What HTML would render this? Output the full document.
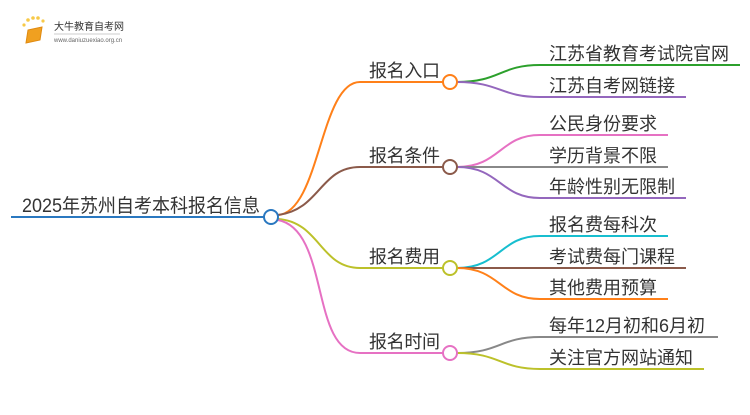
<!DOCTYPE html>
<html><head><meta charset="utf-8"><style>
body{margin:0;width:750px;height:410px;background:#fff;overflow:hidden}
svg text{font-family:"Liberation Sans","Noto Sans CJK SC",sans-serif;fill:#333}
</style></head><body>
<svg width="750" height="410" viewBox="0 0 750 410" xmlns="http://www.w3.org/2000/svg">
<g fill="none" stroke-width="2">
<circle cx="24" cy="25" r="1.6" fill="#f7c948" stroke="none"/>
<circle cx="28" cy="20" r="1.8" fill="#f7c948" stroke="none"/>
<circle cx="33" cy="18" r="1.8" fill="#f7c948" stroke="none"/>
<circle cx="38" cy="18" r="1.8" fill="#f7c948" stroke="none"/>
<circle cx="43" cy="21" r="1.6" fill="#f7c948" stroke="none"/>
<path d="M28 30 L42 27 L40 40 L26 43 Z" fill="#f0a020" stroke="#e08a10" stroke-width="1"/>
<line x1="54" y1="34" x2="120" y2="34" stroke="#ccc" stroke-width="1"/>
<line x1="11" y1="217" x2="264" y2="217" stroke="#2a78c0"/>
<path d="M278 215 C320 212 320 82 360 82 L443 82" stroke="#ff8019"/>
<path d="M278 215 C320 210 320 167 360 167 L443 167" stroke="#8b5a4a"/>
<path d="M278 219 C320 222 320 268 360 268 L443 268" stroke="#bcc12a"/>
<path d="M278 220 C330 230 310 353 360 353 L443 353" stroke="#e671c3"/>
<circle cx="271" cy="217" r="7" stroke="#2a78c0" fill="#fff"/>
<path d="M457 82 C500 82 500 65 540 65 L740 65" stroke="#2ca02c"/>
<path d="M457 82 C500 82 500 97 540 97 L686 97" stroke="#9467bd"/>
<path d="M457 167 C500 167 500 135 540 135 L668 135" stroke="#e671c3"/>
<path d="M457 167 L668 167" stroke="#888"/>
<path d="M457 167 C500 167 500 198 540 198 L686 198" stroke="#9467bd"/>
<path d="M457 268 C500 268 500 236 540 236 L668 236" stroke="#17becf"/>
<path d="M457 268 L686 268" stroke="#8b5a4a"/>
<path d="M457 268 C500 268 500 299 540 299 L668 299" stroke="#ff8019"/>
<path d="M457 353 C500 353 500 337 540 337 L718 337" stroke="#888"/>
<path d="M457 353 C500 353 500 369 540 369 L704 369" stroke="#bcc12a"/>
<circle cx="450" cy="82" r="7" stroke="#ff8019" fill="#fff"/>
<circle cx="450" cy="167" r="7" stroke="#8b5a4a" fill="#fff"/>
<circle cx="450" cy="268" r="7" stroke="#bcc12a" fill="#fff"/>
<circle cx="450" cy="353" r="7" stroke="#e671c3" fill="#fff"/>
</g>
<text x="54" y="30" font-size="10" style="fill:#333">大牛教育自考网</text>
<text x="54" y="42" font-size="6" style="fill:#666">www.daniuzuexiao.org.cn</text>
<text x="22" y="212" font-size="19" textLength="238" lengthAdjust="spacingAndGlyphs">2025年苏州自考本科报名信息</text>
<g font-size="18">
<text x="369" y="77" textLength="71">报名入口</text>
<text x="369" y="162" textLength="71">报名条件</text>
<text x="369" y="263" textLength="71">报名费用</text>
<text x="369" y="348" textLength="71">报名时间</text>
</g>
<g font-size="18">
<text x="549" y="60">江苏省教育考试院官网</text>
<text x="549" y="92">江苏自考网链接</text>
<text x="549" y="130">公民身份要求</text>
<text x="549" y="162">学历背景不限</text>
<text x="549" y="193">年龄性别无限制</text>
<text x="549" y="231">报名费每科次</text>
<text x="549" y="263">考试费每门课程</text>
<text x="549" y="294">其他费用预算</text>
<text x="549" y="332" textLength="156" lengthAdjust="spacingAndGlyphs">每年12月初和6月初</text>
<text x="549" y="364">关注官方网站通知</text>
</g>
</svg>
</body></html>
